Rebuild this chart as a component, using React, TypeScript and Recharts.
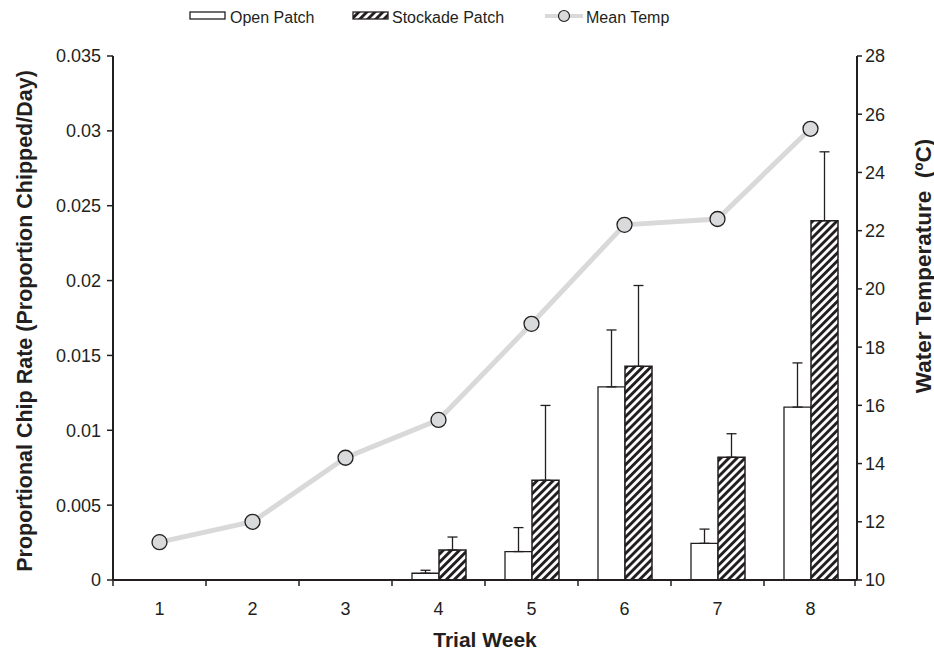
import { ComposedChart, Bar, Line, XAxis, YAxis, ErrorBar, Label } from 'recharts'

const weeks = ['1', '2', '3', '4', '5', '6', '7', '8']
const openPatch = [0, 0, 0, 0.00045, 0.0019, 0.0129, 0.00245, 0.01155]
const openErr = [null, null, null, 0.0002, 0.0016, 0.0038, 0.00095, 0.00295]
const stockadePatch = [0, 0, 0, 0.002, 0.00666, 0.01427, 0.0082, 0.024]
const stockadeErr = [null, null, null, 0.00087, 0.005, 0.0054, 0.00157, 0.0046]
const meanTemp = [11.3, 12.0, 14.2, 15.5, 18.8, 22.2, 22.4, 25.5]

const rateTicks = [0, 0.005, 0.01, 0.015, 0.02, 0.025, 0.03, 0.035]
const tempTicks = [10, 12, 14, 16, 18, 20, 22, 24, 26, 28]

const data = weeks.map((w, i) => ({
  week: w,
  open: openPatch[i],
  openErr: openErr[i] == null ? null : [0, openErr[i]],
  stockade: stockadePatch[i],
  stockadeErr: stockadeErr[i] == null ? null : [0, stockadeErr[i]],
  temp: meanTemp[i],
}))

const INK = '#231f20'
const FONT = '"Liberation Sans", Arial, Helvetica, sans-serif'
const W = 934
const H = 654
const LEFT_W = 113
const RIGHT_W = 77
const PLOT_W = W - LEFT_W - RIGHT_W
const BAND = PLOT_W / weeks.length

function WeekTick(props: any) {
  const { x, y, payload, index } = props
  return (
    <g>
      <line x1={x - BAND / 2} y1={y} x2={x - BAND / 2} y2={y + 6} stroke={INK} strokeWidth={1.5} />
      {index === weeks.length - 1 && (
        <line x1={x + BAND / 2 - 2} y1={y} x2={x + BAND / 2 - 2} y2={y + 6} stroke={INK} strokeWidth={1.5} />
      )}
      <text x={x} y={y + 35} textAnchor="middle" fontSize={18} fill={INK} fontFamily={FONT}>
        {payload.value}
      </text>
    </g>
  )
}

function Legend() {
  return (
    <div
      style={{
        position: 'absolute',
        top: 6,
        left: 0,
        width: W,
        height: 24,
        fontFamily: FONT,
        fontSize: 16,
        color: INK,
      }}
    >
      <svg width={W} height={24} style={{ position: 'absolute', left: 0, top: 0 }}>
        <defs>
          <pattern id="hatchLegend" width="5.7" height="5.7" patternUnits="userSpaceOnUse" patternTransform="rotate(45)">
            <rect width="5.7" height="5.7" fill="#fff" />
            <rect width="2.9" height="5.7" fill={INK} />
          </pattern>
        </defs>
        <rect x={190} y={6} width={35} height={7} fill="#fff" stroke={INK} strokeWidth={1.3} />
        <rect x={353} y={6} width={35} height={7} fill="url(#hatchLegend)" stroke={INK} strokeWidth={1.3} />
        <line x1={545} y1={10} x2={583} y2={10} stroke="#d9d9d9" strokeWidth={4} />
        <circle cx={564} cy={10} r={5.5} fill="#d9dadc" stroke={INK} strokeWidth={1.2} />
      </svg>
      <span style={{ position: 'absolute', left: 230, top: 3 }}>Open Patch</span>
      <span style={{ position: 'absolute', left: 392, top: 3 }}>Stockade Patch</span>
      <span style={{ position: 'absolute', left: 586, top: 3 }}>Mean Temp</span>
    </div>
  )
}

export default function App() {
  return (
    <div style={{ position: 'absolute', left: 0, top: 0, width: W, height: H, background: '#fff' }}>
      <Legend />
      <ComposedChart
        width={W}
        height={H}
        data={data}
        margin={{ top: 56, right: 0, bottom: 0, left: 0 }}
        barCategoryGap={20}
        barGap={0}
      >
        <defs>
          <pattern id="hatch" width="5.7" height="5.7" patternUnits="userSpaceOnUse" patternTransform="rotate(45)">
            <rect width="5.7" height="5.7" fill="#fff" />
            <rect width="2.9" height="5.7" fill={INK} />
          </pattern>
        </defs>
        <XAxis
          dataKey="week"
          height={74}
          tickSize={0}
          tickMargin={0}
          tickLine={false}
          axisLine={{ stroke: INK, strokeWidth: 2 }}
          tick={<WeekTick />}
          interval={0}
        >
          <Label
            content={(p: any) => {
              const vb = p.viewBox || {}
              return (
                <text
                  x={vb.x + vb.width / 2}
                  y={vb.y + 67}
                  textAnchor="middle"
                  fontSize={21}
                  fontWeight="bold"
                  fill={INK}
                  fontFamily={FONT}
                >
                  Trial Week
                </text>
              )
            }}
          />
        </XAxis>
        <YAxis
          yAxisId="left"
          width={LEFT_W}
          domain={[0, 0.035]}
          ticks={rateTicks}
          interval={0}
          tickSize={6}
          tickMargin={6}
          tick={{ fill: INK, fontSize: 18, fontFamily: FONT }}
          tickLine={{ stroke: INK, strokeWidth: 1.5 }}
          axisLine={{ stroke: INK, strokeWidth: 2 }}
        >
          <Label
            content={(p: any) => {
              const vb = p.viewBox || {}
              const cx = vb.x + 25
              const cy = vb.y + vb.height / 2 + 3
              return (
                <text
                  x={cx}
                  y={cy}
                  transform={`rotate(-90, ${cx}, ${cy})`}
                  textAnchor="middle"
                  dominantBaseline="central"
                  fontSize={21.5}
                  fontWeight="bold"
                  fill={INK}
                  fontFamily={FONT}
                >
                  Proportional Chip Rate (Proportion Chipped/Day)
                </text>
              )
            }}
          />
        </YAxis>
        <YAxis
          yAxisId="right"
          orientation="right"
          width={RIGHT_W}
          domain={[10, 28]}
          ticks={tempTicks}
          interval={0}
          tickSize={5}
          tickMargin={3}
          tick={{ fill: INK, fontSize: 18, fontFamily: FONT }}
          tickLine={{ stroke: INK, strokeWidth: 1.5 }}
          axisLine={{ stroke: INK, strokeWidth: 2 }}
        >
          <Label
            content={(p: any) => {
              const vb = p.viewBox || {}
              const cx = vb.x + 66
              const cy = vb.y + vb.height / 2 - 52
              return (
                <text
                  x={cx}
                  y={cy}
                  transform={`rotate(-90, ${cx}, ${cy})`}
                  textAnchor="middle"
                  dominantBaseline="central"
                  fontSize={22.5}
                  fontWeight="bold"
                  fill={INK}
                  fontFamily={FONT}
                  style={{ whiteSpace: 'pre' }}
                >
                  {'Water Temperature  (ºC)'}
                </text>
              )
            }}
          />
        </YAxis>
        <Bar yAxisId="left" dataKey="open" fill="#fff" stroke={INK} strokeWidth={1.3} isAnimationActive={false}>
          <ErrorBar dataKey="openErr" direction="y" width={5} stroke={INK} strokeWidth={1.3} />
        </Bar>
        <Bar yAxisId="left" dataKey="stockade" fill="url(#hatch)" stroke={INK} strokeWidth={1.5} isAnimationActive={false}>
          <ErrorBar dataKey="stockadeErr" direction="y" width={5} stroke={INK} strokeWidth={1.3} />
        </Bar>
        <Line
          yAxisId="right"
          dataKey="temp"
          stroke="#d9d9d9"
          strokeWidth={5}
          dot={{ r: 7.5, fill: '#d9dadc', stroke: INK, strokeWidth: 1.3 }}
          isAnimationActive={false}
        />
      </ComposedChart>
    </div>
  )
}
